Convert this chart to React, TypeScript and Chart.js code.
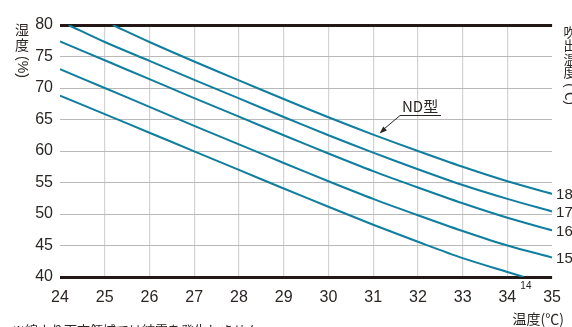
import React, { useEffect, useRef } from "react";
import { Chart, registerables } from "chart.js";

Chart.register(...registerables);

// Temperature (°C) on x, humidity (%) on y
const xTicks = [24, 25, 26, 27, 28, 29, 30, 31, 32, 33, 34, 35];
const yTicks = [40, 45, 50, 55, 60, 65, 70, 75, 80];

const x18 = [25.18, 26, 27, 28, 29, 30, 31, 32, 33, 34, 35];
const y18 = [80, 77.3, 74.2, 71.2, 68.25, 65.35, 62.6, 60.0, 57.5, 55.2, 53.2];

const x17 = [24.19, 25, 26, 27, 28, 29, 30, 31, 32, 33, 34, 35];
const y17 = [80, 77.3, 74.3, 71.3, 68.35, 65.4, 62.5, 59.75, 57.1, 54.6, 52.4, 50.4];

const x16 = [24, 25, 26, 27, 28, 29, 30, 31, 32, 33, 34, 35];
const y16 = [77.4, 74.4, 71.4, 68.4, 65.45, 62.5, 59.6, 56.8, 54.2, 51.7, 49.4, 47.4];

const x15 = [24, 25, 26, 27, 28, 29, 30, 31, 32, 33, 34, 35];
const y15 = [73.0, 70.0, 67.0, 64.0, 61.05, 58.1, 55.2, 52.4, 49.8, 47.3, 45.0, 43.1];

const x14 = [24, 25, 26, 27, 28, 29, 30, 31, 32, 33, 34, 34.37];
const y14 = [68.8, 65.85, 62.9, 59.95, 57.0, 54.05, 51.15, 48.3, 45.6, 43.0, 40.8, 40];

const seriesLabels = ["18", "17", "16", "15", "14"];
const seriesX = [x18, x17, x16, x15, x14];
const seriesY = [y18, y17, y16, y15, y14];

const yTitle = ["湿", "度"];
const yTitleRot = "(%)";
const rTitle = ["吹", "出", "温", "度"];
const rTitleRot = "(℃)";
const xTitle = "温度(℃)";
const ndLabel = "ND型";
const footnote = "※線より下方領域では結露を発生しません";

const TEAL = "#0f7e9f";
const INK = "#2b2624";
const FONT = '"Liberation Sans", Arial, "Noto Sans CJK JP", sans-serif';
const JFONT = '"Noto Sans CJK JP", "Liberation Sans", sans-serif';

const annotPlugin = {
  id: "annot",
  afterDraw(chart: any) {
    const ctx = chart.ctx as CanvasRenderingContext2D;
    const xs = chart.scales.x;
    const ys = chart.scales.y;
    ctx.save();
    ctx.fillStyle = INK;

    // right side series labels
    ctx.font = `15px ${FONT}`;
    ctx.textAlign = "left";
    ctx.textBaseline = "middle";
    for (let i = 0; i < 4; i++) {
      const ly = seriesY[i][seriesY[i].length - 1];
      ctx.fillText(seriesLabels[i], xs.getPixelForValue(35) + 4, ys.getPixelForValue(ly) + 1);
    }
    // "14" label
    ctx.font = `10px ${FONT}`;
    ctx.textAlign = "center";
    const lx14 = x14[x14.length - 1];
    ctx.fillText(seriesLabels[4], xs.getPixelForValue(lx14) + 2, ys.getPixelForValue(40) + 9);

    // y title vertical
    ctx.font = `14px ${JFONT}`;
    ctx.textAlign = "center";
    ctx.textBaseline = "middle";
    ctx.fillText(yTitle[0], 22, 30);
    ctx.fillText(yTitle[1], 22, 45);
    ctx.save();
    ctx.translate(22, 67);
    ctx.rotate(Math.PI / 2);
    ctx.font = `14px ${FONT}`;
    ctx.fillText(yTitleRot, 0, 0);
    ctx.restore();

    // right title vertical (cut off at edge)
    ctx.font = `13px ${JFONT}`;
    const rx = 570;
    rTitle.forEach((c, i) => ctx.fillText(c, rx, 32 + i * 13.5));
    ctx.save();
    ctx.translate(rx, 94);
    ctx.rotate(Math.PI / 2);
    ctx.font = `13px ${FONT}`;
    ctx.fillText(rTitleRot, 0, 0);
    ctx.restore();

    // x title
    ctx.font = `14px ${JFONT}`;
    ctx.textAlign = "right";
    ctx.textBaseline = "middle";
    ctx.fillText(xTitle, 564, 319);

    // footnote
    ctx.textAlign = "left";
    ctx.textBaseline = "top";
    ctx.font = `13px ${JFONT}`;
    ctx.fillText(footnote, 12, 324);

    // ND label with leader arrow
    ctx.font = `15px ${JFONT}`;
    ctx.textAlign = "left";
    ctx.textBaseline = "alphabetic";
    ctx.fillText(ndLabel, 402, 112);
    ctx.strokeStyle = INK;
    ctx.lineWidth = 1;
    ctx.beginPath();
    ctx.moveTo(441, 115.5);
    ctx.lineTo(400, 115.5);
    ctx.lineTo(384, 129);
    ctx.stroke();
    const tipX = 379.5, tipY = 133.5;
    const ang = Math.atan2(tipY - 115.5, tipX - 400);
    ctx.beginPath();
    ctx.moveTo(tipX, tipY);
    ctx.lineTo(tipX - 8 * Math.cos(ang - 0.35), tipY - 8 * Math.sin(ang - 0.35));
    ctx.lineTo(tipX - 8 * Math.cos(ang + 0.35), tipY - 8 * Math.sin(ang + 0.35));
    ctx.closePath();
    ctx.fill();

    ctx.restore();
  },
};

export default function App() {
  const ref = useRef<HTMLCanvasElement>(null);
  useEffect(() => {
    if (!ref.current) return;
    const datasets = seriesX.map((xs, i) => ({
      label: seriesLabels[i],
      data: xs.map((x, j) => ({ x, y: seriesY[i][j] })),
      borderColor: TEAL,
      backgroundColor: TEAL,
      borderWidth: 2,
      pointRadius: 0,
      tension: 0.3,
      fill: false,
    }));
    const chart = new Chart(ref.current, {
      type: "line",
      data: { datasets },
      options: {
        animation: false,
        responsive: false,
        layout: { padding: { top: 25, right: 17, left: 0, bottom: 0 } },
        plugins: { legend: { display: false }, tooltip: { enabled: false } },
        scales: {
          x: {
            type: "linear",
            min: xTicks[0],
            max: xTicks[xTicks.length - 1],
            z: -1,
            afterBuildTicks: (s: any) => {
              s.ticks = xTicks.map((v) => ({ value: v }));
            },
            afterFit: (s: any) => {
              s.height = 50;
            },
            ticks: {
              padding: 11,
              color: INK,
              font: { family: FONT, size: 16 },
              autoSkip: false,
              maxRotation: 0,
            },
            grid: {
              drawTicks: false,
              color: (c: any) =>
                c.tick && (c.tick.value === 24 || c.tick.value === 35) ? "rgba(0,0,0,0)" : "#d3d3d3",
              lineWidth: 1.2,
            },
            border: { display: false },
          },
          y: {
            type: "linear",
            min: yTicks[0],
            max: yTicks[yTicks.length - 1],
            afterBuildTicks: (s: any) => {
              s.ticks = yTicks.map((v) => ({ value: v }));
            },
            afterFit: (s: any) => {
              s.width = 60;
            },
            ticks: {
              padding: 7,
              color: INK,
              font: { family: FONT, size: 16 },
            },
            grid: {
              drawTicks: false,
              color: (c: any) =>
                c.tick && (c.tick.value === 40 || c.tick.value === 80) ? "#231815" : "#b9b9b9",
              lineWidth: (c: any) =>
                c.tick && (c.tick.value === 40 || c.tick.value === 80) ? 3 : 1,
            },
            border: { display: false },
          },
        },
      },
      plugins: [annotPlugin],
    });
    return () => chart.destroy();
  }, []);
  return (
    <div style={{ position: "fixed", left: 0, top: 0, width: 572, height: 327, background: "#fff", overflow: "hidden" }}>
      <canvas ref={ref} width={572} height={327} style={{ width: 572, height: 327, display: "block" }} />
    </div>
  );
}
